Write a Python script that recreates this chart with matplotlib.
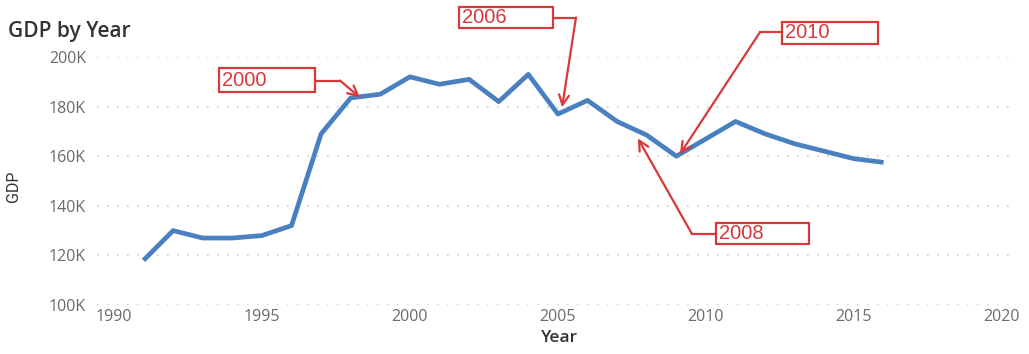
import matplotlib
matplotlib.use("Agg")
import matplotlib.pyplot as plt
from matplotlib.patches import Rectangle
from matplotlib.ticker import FuncFormatter, MultipleLocator

# GDP series
years = list(range(1991, 2017))
gdp = [118000, 130000, 127000, 127000, 128000, 132000, 169000, 183500,
       185000, 192000, 189000, 191000, 182000, 193000, 177000, 182500,
       174000, 168500, 160000, 167000, 174000, 169000, 165000, 162000,
       159000, 157500]

# callouts: label, box (x0, x1, y0, y1), elbow point, arrow tip
callout_labels = ["2000", "2006", "2010", "2008"]
callout_boxes = [(1993.55, 1996.79, 185700, 195400),
                 (2001.66, 2004.83, 211500, 220300),
                 (2012.57, 2015.81, 205400, 214300),
                 (2010.34, 2013.48, 124500, 133000)]
callout_elbows = [(1997.64, 190500), (2005.61, 215900),
                  (2011.82, 209900), (2009.53, 128600)]
callout_tips = [(1998.31, 183700), (2005.14, 179700),
                (2009.12, 160800), (2007.70, 167200)]

LINE = "#4a80c0"
RED = "#d9383a"
GRID = "#cdcdcd"

plt.rcParams["font.family"] = ["Open Sans", "DejaVu Sans"]

fig = plt.figure(figsize=(10.29, 3.54), dpi=100)
ax = fig.add_axes([97 / 1029, 1 - 305 / 354, 918 / 1029, 248 / 354])

ax.plot(years, gdp, color=LINE, lw=3.4, solid_joinstyle="round",
        solid_capstyle="butt", zorder=3, clip_on=False)

ax.set_xlim(1989.43, 2020.44)
ax.set_ylim(100000, 200000)
ax.xaxis.set_major_locator(MultipleLocator(5))
ax.yaxis.set_major_locator(MultipleLocator(20000))
ax.yaxis.set_major_formatter(FuncFormatter(lambda v, p: f"{v / 1000:.0f}K"))

ax.grid(axis="y", color=GRID, linestyle=(0, (1, 5)), lw=1.2)
ax.grid(axis="x", visible=False)
for s in ax.spines.values():
    s.set_visible(False)
ax.tick_params(axis="both", length=0, labelsize=11.5, labelcolor="#6a6a6a")
ax.tick_params(axis="y", pad=8)
ax.tick_params(axis="x", pad=3)

ax.set_xlabel("Year", fontsize=12.5, fontweight="semibold", color="#333333")
ax.xaxis.set_label_coords(0.504, -0.1)
ax.set_ylabel("GDP", fontsize=11.5, color="#333333", family="Roboto")
ax.yaxis.set_label_coords(-0.083, 0.48)

fig.text(8 / 1029, 1 - 32 / 354, "GDP by Year", fontsize=15,
         fontweight="semibold", color="#333333", va="center", ha="left")

# red callout boxes with elbow arrows
for label, (x0, x1, y0, y1), (ex, ey), tip in zip(
        callout_labels, callout_boxes, callout_elbows, callout_tips):
    ax.add_patch(Rectangle((x0, y0), x1 - x0, y1 - y0, facecolor="white",
                           edgecolor=RED, lw=1.6, clip_on=False, zorder=5))
    ax.text(x0 + 0.1, (y0 + y1) / 2, label, color=RED, fontsize=14.5,
            family="Liberation Sans", ha="left", va="center", zorder=6)
    start_x = x1 if ex > x1 else x0
    ax.plot([start_x, ex], [ey, ey], color=RED, lw=1.6, clip_on=False,
            zorder=4)
    ax.annotate("", xy=tip, xytext=(ex, ey), annotation_clip=False,
                arrowprops=dict(arrowstyle="->", color=RED, lw=1.6,
                                shrinkA=0, shrinkB=0, mutation_scale=18),
                zorder=4)

fig.savefig("out.png", dpi=100)
